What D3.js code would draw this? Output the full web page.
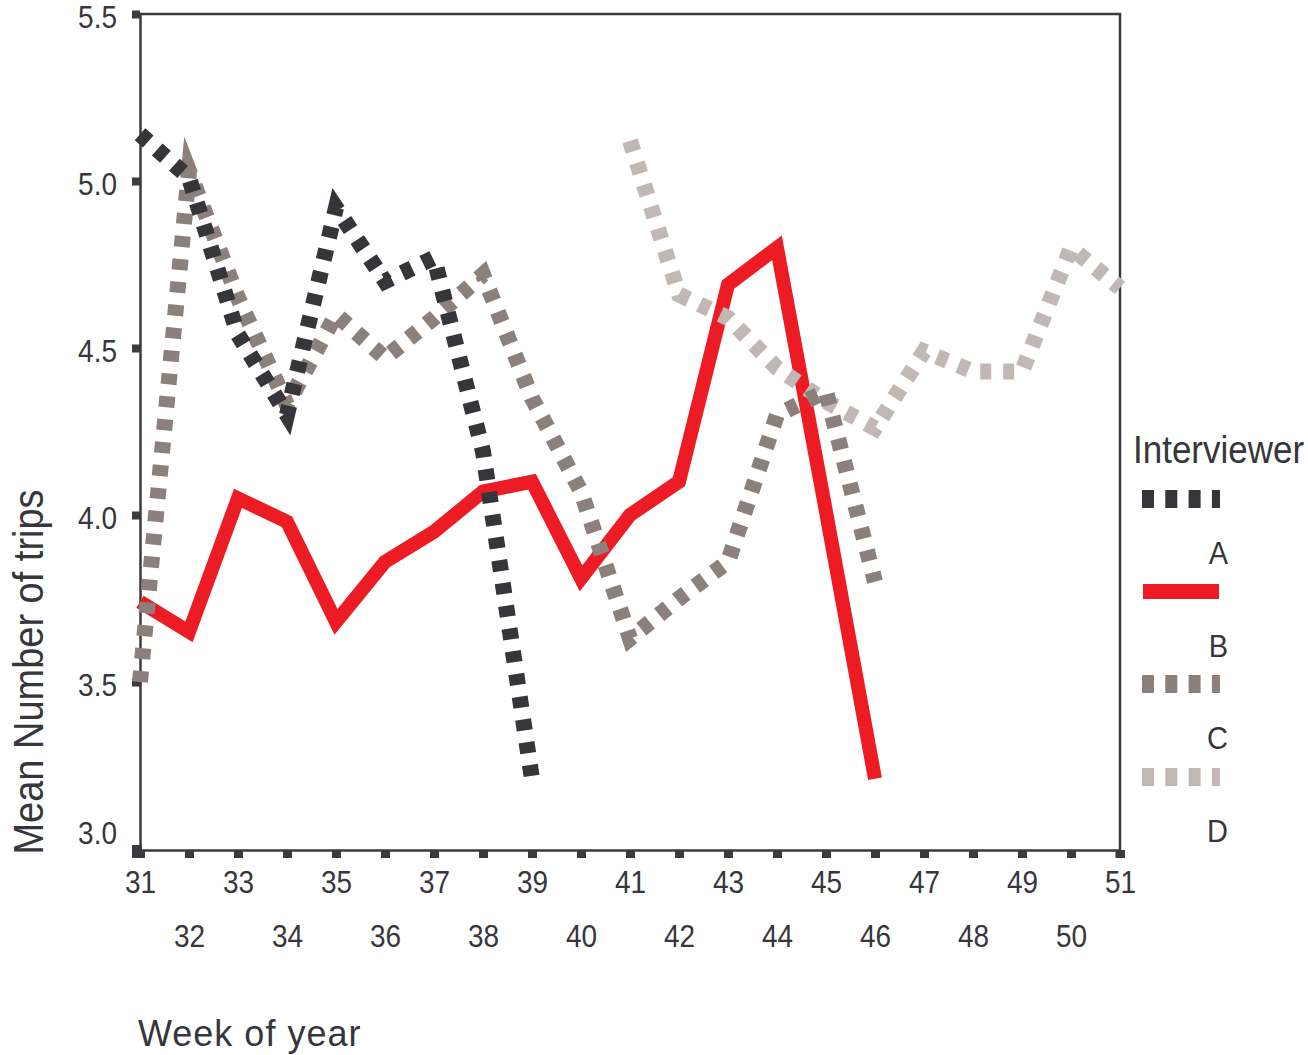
<!DOCTYPE html>
<html>
<head>
<meta charset="utf-8">
<script src="https://cdn.jsdelivr.net/npm/d3@7"></script>
<style>
  html, body { margin: 0; padding: 0; background: #ffffff; }
  svg { display: block; }
  text { font-family: "Liberation Sans", Arial, Helvetica, sans-serif; fill: #36363b; }
</style>
</head>
<body>
<svg id="chart" width="1308" height="1055"></svg>
<script>
// ---- data ----
const weekTicks = [31,32,33,34,35,36,37,38,39,40,41,42,43,44,45,46,47,48,49,50,51];
const yTicks = [3.0, 3.5, 4.0, 4.5, 5.0, 5.5];

const seriesNames = ["A", "B", "C", "D"];
const weeksA = [31,32,33,34,35,36,37,38,39];
const valuesA = [5.14, 5.01, 4.54, 4.30, 4.92, 4.70, 4.77, 4.19, 3.21];
const weeksB = [31,32,33,34,35,36,37,38,39,40,41,42,43,44,45,46];
const valuesB = [3.74, 3.65, 4.05, 3.98, 3.68, 3.86, 3.95, 4.07, 4.10, 3.81, 4.00, 4.10, 4.69, 4.80, 4.01, 3.21];
const weeksC = [31,32,33,34,35,36,37,38,39,40,41,42,43,44,45,46];
const valuesC = [3.50, 5.03, 4.65, 4.33, 4.60, 4.47, 4.59, 4.72, 4.35, 4.07, 3.63, 3.75, 3.86, 4.30, 4.37, 3.80];
const weeksD = [41,42,43,44,45,46,47,48,49,50,51];
const valuesD = [5.12, 4.66, 4.59, 4.44, 4.34, 4.26, 4.49, 4.43, 4.43, 4.80, 4.68];

const colors = { A: "#35353a", B: "#ed1c24", C: "#8c807c", D: "#c1b7b4" };

// ---- layout ----
const pLeft = 140, pRight = 1120, pTop = 14, pBottom = 849;
const svg = d3.select("#chart");
const axisColor = "#3a3a3f";

const x = d3.scaleLinear().domain([31, 51]).range([pLeft, pRight]);
const y = d3.scaleLinear().domain([3.0, 5.5]).range([pBottom, pTop]);

// frame (top & right)
svg.append("path")
  .attr("d", `M${pLeft},${pTop}H${pRight}V${pBottom + 1}`)
  .attr("fill", "none").attr("stroke", axisColor).attr("stroke-width", 2.5);

// x axis
const xAxis = svg.append("g").attr("transform", `translate(0,${pBottom + 1})`)
  .call(d3.axisBottom(x).tickValues(weekTicks).tickSize(0).tickFormat(""));
xAxis.select(".domain").attr("stroke", axisColor).attr("stroke-width", 2.5);
xAxis.selectAll(".tick").append("rect")
  .attr("x", -4.5).attr("y", 0).attr("width", 9).attr("height", 8).attr("fill", axisColor);
xAxis.selectAll(".tick").append("text")
  .attr("text-anchor", "middle")
  .attr("transform", (d) => `translate(0,${d % 2 === 1 ? 43 : 97}) scale(1,1.12)`)
  .attr("font-size", 28)
  .text((d) => d);

// y axis
const yAxis = svg.append("g").attr("transform", `translate(${pLeft},0)`)
  .call(d3.axisLeft(y).tickValues(yTicks).tickSize(0).tickFormat(""));
yAxis.select(".domain").attr("stroke", axisColor).attr("stroke-width", 2.5);
yAxis.selectAll(".tick").append("rect")
  .attr("x", -8).attr("y", -4).attr("width", 8).attr("height", 8).attr("fill", axisColor);
yAxis.selectAll(".tick").append("text")
  .attr("text-anchor", "end")
  .attr("transform", (d) => `translate(-23,${d === 3.0 ? -6 : 13}) scale(1,1.12)`)
  .attr("font-size", 28)
  .text((d) => d3.format(".1f")(d));

// corner squares
svg.append("rect").attr("x", 132).attr("y", pBottom - 4).attr("width", 10).attr("height", 13).attr("fill", axisColor);
svg.append("rect").attr("x", pRight - 4.5).attr("y", pBottom + 1).attr("width", 9).attr("height", 8).attr("fill", axisColor);

// axis titles
svg.append("text").attr("transform", "translate(138,1046) scale(1,1.05)")
  .attr("font-size", 36).attr("letter-spacing", 1).text("Week of year");
svg.append("text")
  .attr("transform", "translate(43,672) rotate(-90) scale(1,1.12)")
  .attr("text-anchor", "middle")
  .attr("font-size", 38).text("Mean Number of trips");

// ---- lines ----
const line = d3.line().x((d) => x(d[0])).y((d) => y(d[1]));
const dataA = weeksA.map((w, i) => [w, valuesA[i]]);
const dataB = weeksB.map((w, i) => [w, valuesB[i]]);
const dataC = weeksC.map((w, i) => [w, valuesC[i]]);
const dataD = weeksD.map((w, i) => [w, valuesD[i]]);

const plot = svg.append("g");
function drawLine(data, color, dotted) {
  const p = plot.append("path").datum(data)
    .attr("d", line)
    .attr("fill", "none")
    .attr("stroke", color)
    .attr("stroke-linejoin", "miter")
    .attr("stroke-miterlimit", 10)
    .attr("stroke-linecap", "butt");
  if (dotted) {
    p.attr("stroke-width", 16).attr("stroke-dasharray", "11,12");
  } else {
    p.attr("stroke-width", 14);
  }
}
drawLine(dataB, colors.B, false);
drawLine(dataD, colors.D, true);
drawLine(dataC, colors.C, true);
drawLine(dataA, colors.A, true);

// ---- legend ----
const legend = svg.append("g");
legend.append("text").attr("transform", "translate(1133,463) scale(1,1.1)")
  .attr("font-size", 35).text("Interviewer");
const legendY = [499, 591.5, 684, 777];
seriesNames.forEach((name, i) => {
  const yy = legendY[i];
  if (name === "B") {
    legend.append("line").attr("x1", 1143).attr("x2", 1219).attr("y1", yy).attr("y2", yy)
      .attr("stroke", colors.B).attr("stroke-width", 15);
  } else {
    legend.append("line").attr("x1", 1142).attr("x2", 1220).attr("y1", yy).attr("y2", yy)
      .attr("stroke", colors[name]).attr("stroke-width", 18).attr("stroke-dasharray", "12,11.3");
  }
  legend.append("text").attr("transform", `translate(1228,${yy + 65}) scale(1,1.08)`)
    .attr("text-anchor", "end")
    .attr("font-size", 29).text(name);
});
</script>
</body>
</html>
